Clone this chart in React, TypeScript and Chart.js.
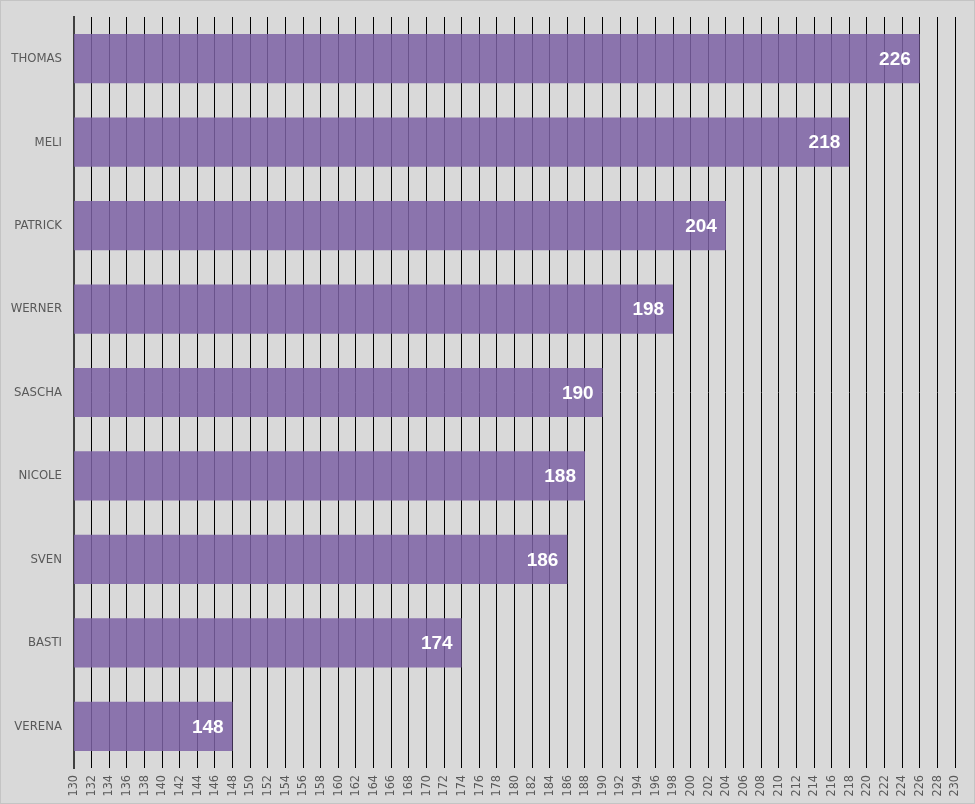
import React, { useEffect, useRef } from "react";
import { Chart, registerables } from "chart.js";

Chart.register(...registerables);

const names = ["THOMAS", "MELI", "PATRICK", "WERNER", "SASCHA", "NICOLE", "SVEN", "BASTI", "VERENA"];
const scores = [226, 218, 204, 198, 190, 188, 186, 174, 148];
const axisMin = 130;
const axisMax = 230;
const axisStep = 2;

const tickFont = "'DejaVu Sans Condensed', 'Liberation Sans', Arial, sans-serif";

// draws the value at the inner end of each bar
const valueLabels = {
  id: "valueLabels",
  afterDatasetsDraw(chart: any) {
    const ctx = chart.ctx;
    const meta = chart.getDatasetMeta(0);
    ctx.save();
    ctx.fillStyle = "#ffffff";
    ctx.font = "bold 19px 'Liberation Sans', Arial, sans-serif";
    ctx.textAlign = "right";
    ctx.textBaseline = "middle";
    meta.data.forEach((bar: any, i: number) => {
      ctx.fillText(String(scores[i]), bar.x - 9, bar.y + 1);
    });
    ctx.restore();
  },
};

export default function App() {
  const chartRef = useRef<HTMLCanvasElement | null>(null);

  useEffect(() => {
    document.body.style.margin = "0";
    let chartInstance: Chart | null = null;

    if (chartRef.current) {
      chartInstance = new Chart(chartRef.current, {
        type: "bar",
        data: {
          labels: names,
          datasets: [
            {
              data: scores,
              backgroundColor: "rgba(125,98,164,0.85)",
              borderWidth: 0,
              categoryPercentage: 1.0,
              barPercentage: 0.59,
            },
          ],
        },
        options: {
          indexAxis: "y",
          animation: false,
          responsive: true,
          maintainAspectRatio: false,
          layout: {
            padding: { top: 16, right: 19, left: 0, bottom: 0 },
          },
          plugins: {
            legend: { display: false },
            tooltip: { enabled: false },
          },
          scales: {
            x: {
              min: axisMin,
              max: axisMax,
              afterFit: (scale: any) => {
                scale.height = 35;
                scale.paddingLeft = 0;
                scale.paddingRight = 0;
              },
              ticks: {
                stepSize: axisStep,
                autoSkip: false,
                minRotation: 90,
                maxRotation: 90,
                padding: 7,
                color: "#595959",
                font: { family: tickFont, size: 12.5 },
              },
              grid: {
                color: "#000000",
                lineWidth: 1,
                drawTicks: false,
              },
              border: { display: false },
            },
            y: {
              afterFit: (scale: any) => {
                scale.width = 73;
                scale.paddingTop = 0;
                scale.paddingBottom = 0;
              },
              ticks: {
                padding: 12,
                color: "#595959",
                font: { family: tickFont, size: 13 },
              },
              grid: { display: false, drawTicks: false },
              border: { display: true, color: "#404040", width: 2 },
            },
          },
        },
        plugins: [valueLabels],
      } as any);
    }

    return () => {
      if (chartInstance) {
        chartInstance.destroy();
      }
    };
  }, []);

  return (
    <div
      style={{
        width: 975,
        height: 804,
        boxSizing: "border-box",
        border: "1px solid #c4c4c4",
        background: "#d9d9d9",
      }}
    >
      <canvas ref={chartRef} />
    </div>
  );
}
